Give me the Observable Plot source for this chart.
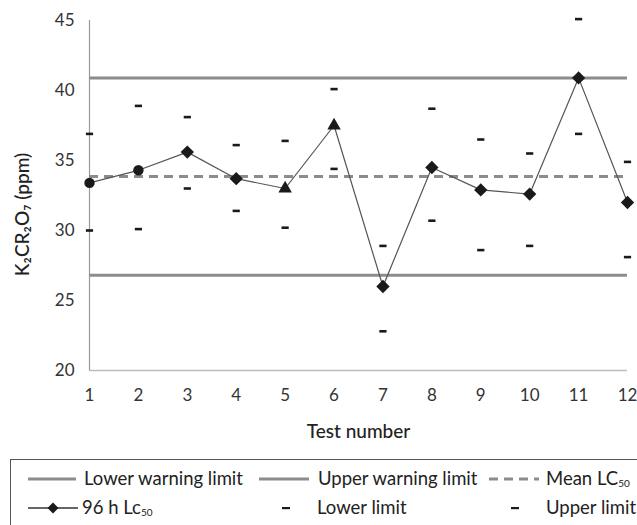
<!DOCTYPE html>
<html>
<head>
<meta charset="utf-8">
<script src="https://cdn.jsdelivr.net/npm/d3@7"></script>
<script src="https://cdn.jsdelivr.net/npm/@observablehq/plot@0.6"></script>
<style>
  html, body { margin: 0; padding: 0; background: #fff; }
  body { width: 637px; height: 525px; position: relative; overflow: hidden; font-family: Lato, "Noto Sans", sans-serif; color: #222; }
  #legend { position: absolute; left: 10px; top: 459px; width: 640px; height: 90px; border: 1.5px solid #555; box-sizing: border-box; }
  .item { position: absolute; font-size: 18.5px; line-height: 22px; white-space: nowrap; color: #222; }
  .item sub { font-size: 10px; vertical-align: -2px; }
  .sample { position: absolute; }
</style>
</head>
<body>
<div id="chart"></div>
<div id="legend"></div>
<script>
// ---- data ----
const tests = [1, 2, 3, 4, 5, 6, 7, 8, 9, 10, 11, 12];
const lc50 = [33.4, 34.3, 35.6, 33.7, 33.0, 37.5, 26.0, 34.5, 32.9, 32.6, 40.9, 32.0];
const markerShape = ["circle", "circle", "diamond2", "diamond2", "triangle", "triangle", "diamond2", "diamond2", "diamond2", "diamond2", "diamond2", "diamond2"];
const lowerLimit = [30.0, 30.1, 33.0, 31.4, 30.2, 34.4, 22.8, 30.7, 28.6, 28.9, 36.9, 28.1];
const upperLimit = [36.9, 38.9, 38.1, 36.1, 36.4, 40.1, 28.9, 38.7, 36.5, 35.5, 45.1, 34.9];
const lowerWarning = 26.8;
const upperWarning = 40.9;
const meanLC50 = 33.85;
const yTicks = [20, 25, 30, 35, 40, 45];

const rows = tests.map((t, i) => ({test: t, lc50: lc50[i], shape: markerShape[i], lower: lowerLimit[i], upper: upperLimit[i]}));

const dashSymbol = {draw(ctx) { ctx.moveTo(-3.6, -1.3); ctx.lineTo(3.6, -1.3); ctx.lineTo(3.6, 1.3); ctx.lineTo(-3.6, 1.3); ctx.closePath(); }};

const font = "Lato, 'Noto Sans', sans-serif";

const plot = Plot.plot({
  width: 637,
  height: 455,
  marginLeft: 89,
  marginRight: 10,
  marginTop: 20,
  marginBottom: 85,
  style: {fontFamily: font, fontSize: "17px", color: "#333", background: "white"},
  x: {domain: [1, 12]},
  y: {domain: [20, 45]},
  marks: [
    Plot.axisY({ticks: yTicks, tickSize: 0, tickPadding: 15, label: null, fontSize: 17}),
    Plot.axisX({ticks: tests, tickSize: 0, tickPadding: 18, label: null, fontSize: 17, tickFormat: d => String(d)}),
    Plot.ruleY([20], {stroke: "#bdbdbd", strokeWidth: 1.5}),
    Plot.ruleX([1], {stroke: "#9a9a9a", strokeWidth: 1.2}),
    Plot.ruleY([upperWarning], {stroke: "#8c8c8c", strokeWidth: 3}),
    Plot.ruleY([lowerWarning], {stroke: "#8c8c8c", strokeWidth: 3}),
    Plot.ruleY([meanLC50], {stroke: "#8c8c8c", strokeWidth: 3, strokeDasharray: "9,6"}),
    Plot.dot(rows, {x: "test", y: "lower", symbol: dashSymbol, r: 4, fill: "#1a1a1a", stroke: "none"}),
    Plot.dot(rows, {x: "test", y: "upper", symbol: dashSymbol, r: 4, fill: "#1a1a1a", stroke: "none"}),
    Plot.line(rows, {x: "test", y: "lc50", stroke: "#555", strokeWidth: 1.2}),
    Plot.dot(rows.filter(d => d.shape === "circle"), {x: "test", y: "lc50", symbol: "circle", r: 5.2, fill: "#1a1a1a", stroke: "none"}),
    Plot.dot(rows.filter(d => d.shape === "diamond2"), {x: "test", y: "lc50", symbol: "diamond2", r: 6, fill: "#1a1a1a", stroke: "none"}),
    Plot.dot(rows.filter(d => d.shape === "triangle"), {x: "test", y: "lc50", symbol: "triangle", r: 5, fill: "#1a1a1a", stroke: "none"}),
    Plot.text(["K₂CR₂O₇ (ppm)"], {frameAnchor: "left", textAnchor: "middle", lineAnchor: "middle", dx: -67, dy: 19, rotate: -90, fontSize: 19, fill: "#222", fontWeight: 500}),
    Plot.text(["Test number"], {frameAnchor: "bottom", textAnchor: "middle", lineAnchor: "middle", dy: 61, fontSize: 19, fill: "#222", fontWeight: 500})
  ]
});
document.getElementById("chart").appendChild(plot);

// ---- legend ----
const legendItems = [
  {row: 0, sx: 17, sw: 48, kind: "line", tx: 73, html: "Lower warning limit"},
  {row: 0, sx: 248, sw: 50, kind: "line", tx: 307, html: "Upper warning limit"},
  {row: 0, sx: 478, sw: 50, kind: "dash", tx: 535, html: "Mean LC<sub>50</sub>"},
  {row: 1, sx: 17, sw: 50, kind: "marker", tx: 71, html: "96 h Lc<sub>50</sub>"},
  {row: 1, sx: 271, sw: 8, kind: "tick", tx: 306, html: "Lower limit"},
  {row: 1, sx: 500, sw: 8, kind: "tick", tx: 535, html: "Upper limit"}
];
const legend = document.getElementById("legend");
const rowY = [19, 48];
legendItems.forEach(it => {
  const cy = rowY[it.row];
  const svgNS = "http://www.w3.org/2000/svg";
  const s = document.createElementNS(svgNS, "svg");
  s.setAttribute("width", it.sw + 4);
  s.setAttribute("height", 16);
  s.setAttribute("class", "sample");
  s.style.left = (it.sx - 2) + "px";
  s.style.top = (cy - 8) + "px";
  let inner = "";
  if (it.kind === "line") inner = `<line x1="2" x2="${it.sw + 2}" y1="8" y2="8" stroke="#8c8c8c" stroke-width="3"/>`;
  if (it.kind === "dash") inner = `<line x1="2" x2="${it.sw + 2}" y1="8" y2="8" stroke="#8c8c8c" stroke-width="3" stroke-dasharray="9,6"/>`;
  if (it.kind === "marker") inner = `<line x1="2" x2="${it.sw + 2}" y1="8" y2="8" stroke="#333" stroke-width="1.3"/><path d="M${it.sw / 2 + 2},2.5L${it.sw / 2 + 7.5},8L${it.sw / 2 + 2},13.5L${it.sw / 2 - 3.5},8Z" fill="#1a1a1a"/>`;
  if (it.kind === "tick") inner = `<rect x="2" y="7" width="${it.sw}" height="2.2" fill="#1a1a1a"/>`;
  s.innerHTML = inner;
  legend.appendChild(s);
  const t = document.createElement("div");
  t.className = "item";
  t.style.left = it.tx + "px";
  t.style.top = (cy - 12) + "px";
  t.innerHTML = it.html;
  legend.appendChild(t);
});
</script>
</body>
</html>
